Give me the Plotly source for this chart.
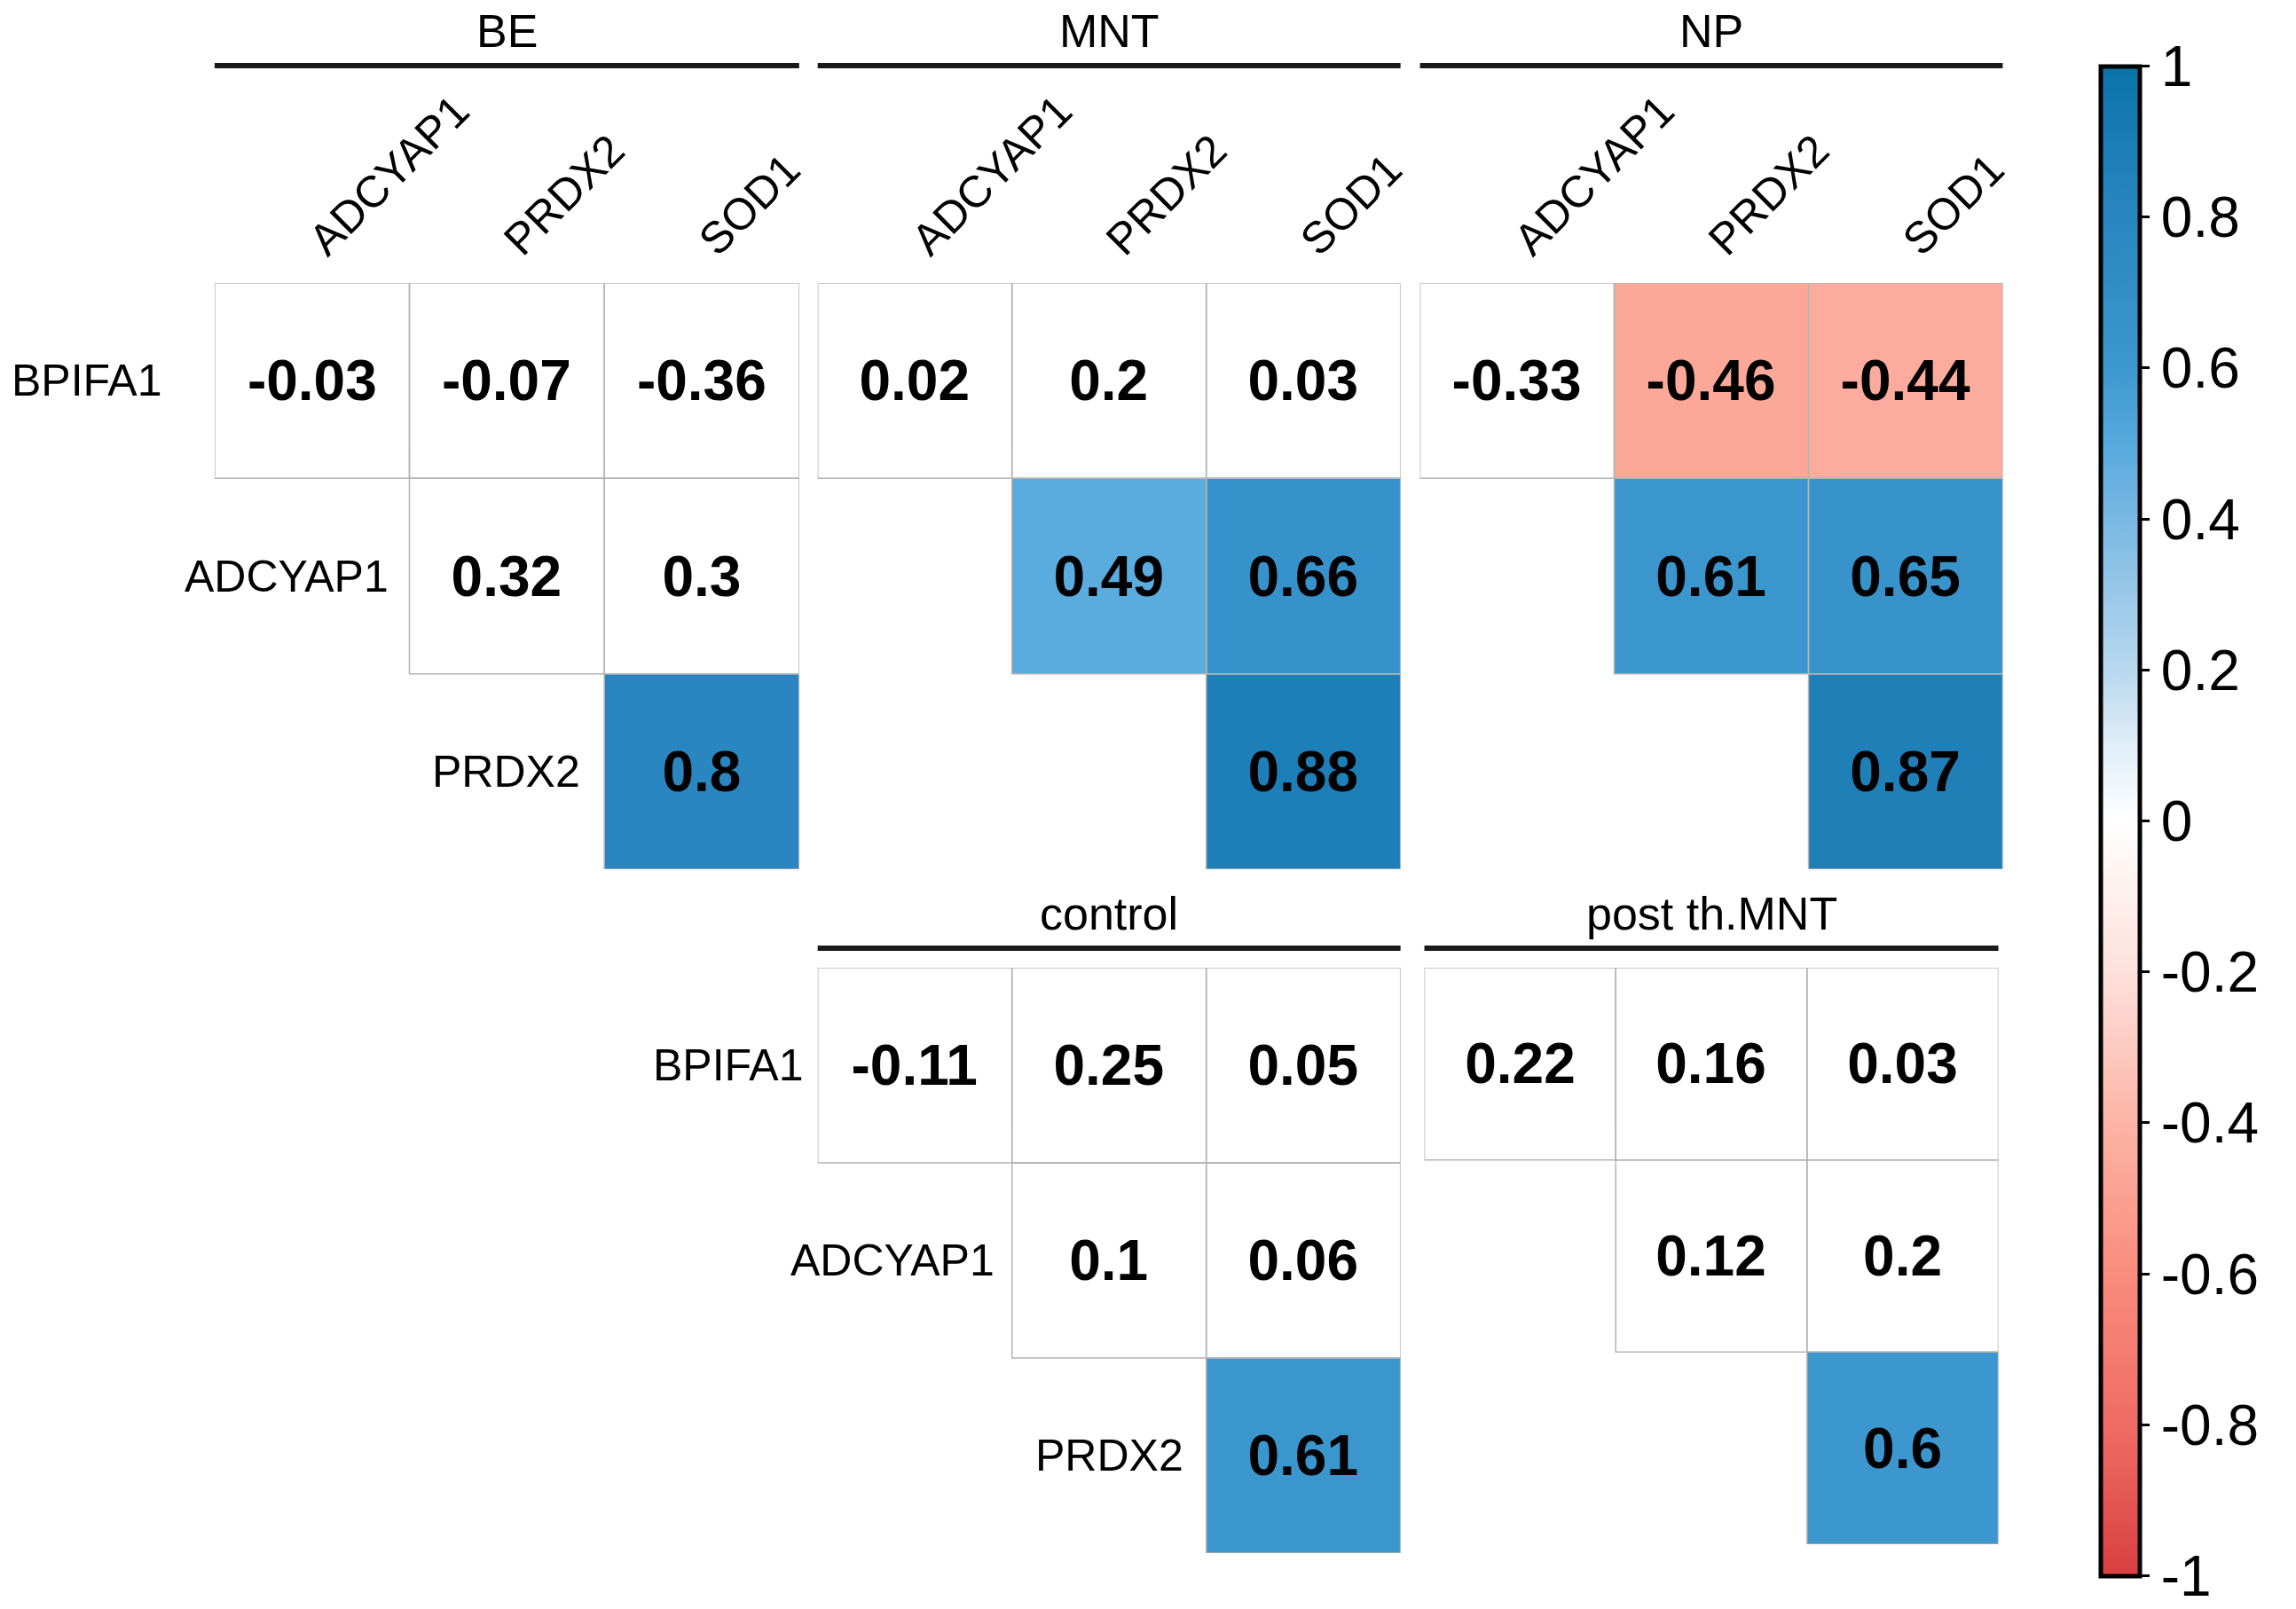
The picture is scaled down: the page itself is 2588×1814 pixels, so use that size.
import plotly.graph_objects as go

# ---------------- data ----------------
panels = ["BE", "MNT", "NP", "control", "post th.MNT"]
rows = ["BPIFA1", "ADCYAP1", "PRDX2"]
cols = ["ADCYAP1", "PRDX2", "SOD1"]

be_vals = [[-0.03, -0.07, -0.36], [None, 0.32, 0.3], [None, None, 0.8]]
mnt_vals = [[0.02, 0.2, 0.03], [None, 0.49, 0.66], [None, None, 0.88]]
np_vals = [[-0.33, -0.46, -0.44], [None, 0.61, 0.65], [None, None, 0.87]]
control_vals = [[-0.11, 0.25, 0.05], [None, 0.1, 0.06], [None, None, 0.61]]
post_vals = [[0.22, 0.16, 0.03], [None, 0.12, 0.2], [None, None, 0.6]]

# 1 = significant (coloured), 0 = not significant (shown white)
be_sig = [[0, 0, 0], [None, 0, 0], [None, None, 1]]
mnt_sig = [[0, 0, 0], [None, 1, 1], [None, None, 1]]
np_sig = [[0, 1, 1], [None, 1, 1], [None, None, 1]]
control_sig = [[0, 0, 0], [None, 0, 0], [None, None, 1]]
post_sig = [[0, 0, 0], [None, 0, 0], [None, None, 1]]

cbar_ticks = [1, 0.8, 0.6, 0.4, 0.2, 0, -0.2, -0.4, -0.6, -0.8, -1]

# ---------------- layout constants ----------------
W, H = 2588, 1814
def px_x(v):
    return v / W
def px_y(v):
    return 1 - v / H

panel_vals = [be_vals, mnt_vals, np_vals, control_vals, post_vals]
panel_sig = [be_sig, mnt_sig, np_sig, control_sig, post_sig]
# pixel boxes (x0, x1, y0, y1) for each panel
boxes = [
    (243, 905, 319, 980),
    (926, 1586, 319, 980),
    (1608, 2268, 319, 980),
    (926, 1586, 1091, 1751),
    (1613, 2263, 1091, 1741),
]
header_line_y = [74, 74, 74, 1069, 1069]
show_col_labels = [True, True, True, False, False]
show_row_labels = [True, False, False, True, False]
row_label_shift = [[-57, -22, -25], None, None, [-14, -18, -24], None]

colorscale = [
    [0.0, "#d9403f"],
    [0.1, "#ee6c64"],
    [0.2, "#f98c7c"],
    [0.3, "#fcb4a6"],
    [0.4, "#fde0db"],
    [0.5, "#ffffff"],
    [0.55, "#e0eef8"],
    [0.6, "#b8d8ee"],
    [0.7, "#79b8e2"],
    [0.75, "#56a9dd"],
    [0.8, "#3d97cf"],
    [0.9, "#2a86c0"],
    [1.0, "#0a74aa"],
]

FONT = "Liberation Sans"
fig = go.Figure()
shapes = []
annotations = []

for i, name in enumerate(panels):
    vals = panel_vals[i]
    sig = panel_sig[i]
    z = []
    txt = []
    for r in range(3):
        zr, tr = [], []
        for c in range(3):
            v = vals[r][c]
            if v is None:
                zr.append(None)
                tr.append("")
            else:
                zr.append(v if sig[r][c] else 0)
                tr.append(f"{v:g}")
        z.append(zr)
        txt.append(tr)
    ax = "" if i == 0 else str(i + 1)
    fig.add_trace(go.Heatmap(
        z=z, x=[0, 1, 2], y=[0, 1, 2], text=txt,
        texttemplate="%{text}",
        textfont=dict(family=FONT, size=64, color="black", weight="bold"),
        coloraxis="coloraxis", xaxis="x" + ax, yaxis="y" + ax,
        hoverinfo="skip",
    ))
    x0, x1, y0, y1 = boxes[i]
    fig.update_layout(**{
        "xaxis" + ax: dict(
            domain=[px_x(x0), px_x(x1)], range=[-0.5, 2.5], side="top",
            anchor="y" + ax, tickvals=[0, 1, 2], ticktext=cols,
            showticklabels=show_col_labels[i], tickangle=-45,
            tickfont=dict(family=FONT, size=50, color="black"),
            showgrid=False, zeroline=False, showline=False, ticks="",
            ticklabelstandoff=10, fixedrange=True,
        ),
        "yaxis" + ax: dict(
            domain=[px_y(y1), px_y(y0)], range=[2.5, -0.5],
            anchor="x" + ax, showticklabels=False, showgrid=False,
            zeroline=False, showline=False, ticks="", fixedrange=True,
        ),
    })
    # cell borders
    for r in range(3):
        for c in range(3):
            if vals[r][c] is not None:
                shapes.append(dict(
                    type="rect", xref="x" + ax, yref="y" + ax,
                    x0=c - 0.5, x1=c + 0.5, y0=r - 0.5, y1=r + 0.5,
                    line=dict(color="#b4b4b4", width=1.5), layer="above",
                ))
    # row labels placed at the diagonal
    if show_row_labels[i]:
        for r, rn in enumerate(rows):
            annotations.append(dict(
                x=r - 0.5, y=r, xref="x" + ax, yref="y" + ax,
                text=rn, showarrow=False, xanchor="right", yanchor="middle",
                xshift=row_label_shift[i][r],
                font=dict(family=FONT, size=50, color="black"),
            ))
    # group header line and title
    ly = header_line_y[i]
    shapes.append(dict(
        type="line", xref="paper", yref="paper",
        x0=px_x(x0), x1=px_x(x1), y0=px_y(ly), y1=px_y(ly),
        line=dict(color="#1a1a1a", width=6),
    ))
    annotations.append(dict(
        x=(px_x(x0) + px_x(x1)) / 2, y=px_y(ly - 8), xref="paper", yref="paper",
        text=name, showarrow=False, xanchor="center", yanchor="bottom",
        font=dict(family=FONT, size=52, color="black"),
    ))

fig.update_layout(
    width=W, height=H,
    margin=dict(l=0, r=0, t=0, b=0),
    paper_bgcolor="white", plot_bgcolor="white",
    shapes=shapes, annotations=annotations,
    coloraxis=dict(
        cmin=-1, cmax=1, colorscale=colorscale,
        colorbar=dict(
            x=px_x(2379.5), xanchor="left", thickness=44, thicknessmode="pixels",
            y=px_y(925.5), yanchor="middle", len=1702 / H, lenmode="fraction",
            xpad=0, ypad=0, outlinewidth=5, outlinecolor="black",
            tickvals=cbar_ticks, ticktext=[f"{t:g}" for t in cbar_ticks],
            ticks="outside", ticklen=9, tickwidth=3, tickcolor="black",
            tickfont=dict(family=FONT, size=64, color="black"),
        ),
    ),
    showlegend=False,
)

fig.write_html(
    "out.html",
    config={"displayModeBar": False},
    post_script=(
        "document.body.style.margin='0px';"
        "document.body.style.overflow='hidden';"
        "document.documentElement.style.overflow='hidden';"
    ),
)
